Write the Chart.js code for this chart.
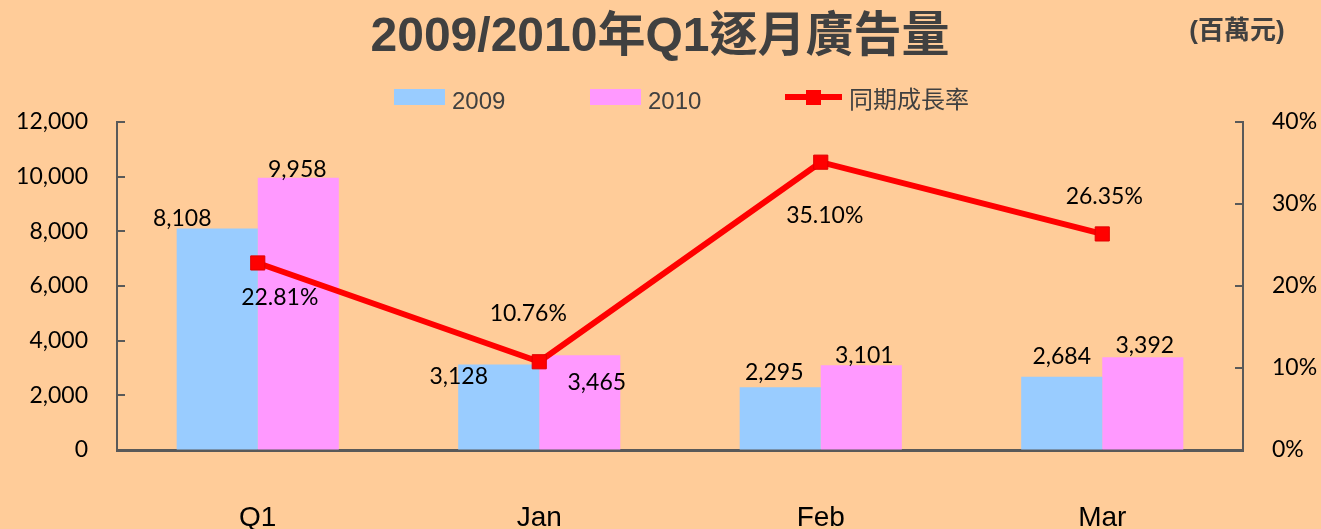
<!DOCTYPE html>
<html>
<head>
<meta charset="utf-8">
<script src="https://cdn.jsdelivr.net/npm/chart.js@4.4.1/dist/chart.umd.min.js"></script>
<style>
  html, body { margin: 0; padding: 0; background: #FFCC99; overflow: hidden; }
  canvas { display: block; }
</style>
</head>
<body>
<canvas id="adChart" width="1321" height="529"></canvas>
<script>
// 廣告量 (百萬元) 與同期成長率
const categories = ["Q1", "Jan", "Feb", "Mar"];
const volume2009 = [8108, 3128, 2295, 2684];
const volume2010 = [9958, 3465, 3101, 3392];
const growthRate = [22.81, 10.76, 35.10, 26.35];
const volumeTicks = [0, 2000, 4000, 6000, 8000, 10000, 12000];
const rateTicks = [0, 10, 20, 30, 40];

// label offsets from each mark (dx, dy), per dataset
const labelShift = [
    [[-35, -10], [-40, 12], [-6, -15], [0, -20]],
    [[-1, -8], [17, 27], [3, -10], [2, -12]],
    [[22, 35], [-11, -48], [4, 53], [2, -37]]
];
const legendX = [394, 590, 785];

const axisGrey = "#595959";
const textGrey = "#404040";

const headerPlugin = {
    id: "header",
    beforeDraw(chart) {
        const ctx = chart.ctx;
        ctx.save();
        ctx.fillStyle = "#FFCC99";
        ctx.fillRect(0, 0, chart.width, chart.height);

        ctx.fillStyle = textGrey;
        ctx.textBaseline = "middle";
        ctx.textAlign = "center";
        ctx.font = "bold 48px 'Liberation Sans', 'Noto Sans CJK TC'";
        ctx.fillText("2009/2010年Q1逐月廣告量", 660, 38);
        ctx.font = "bold 26px 'Liberation Sans', 'Noto Sans CJK TC'";
        ctx.fillText("(百萬元)", 1237, 32);

        // legend
        ctx.textAlign = "left";
        chart.data.datasets.forEach((ds, i) => {
            const x = legendX[i];
            if (ds.type === "line") {
                ctx.strokeStyle = ds.borderColor;
                ctx.lineWidth = 6;
                ctx.beginPath();
                ctx.moveTo(x, 97);
                ctx.lineTo(x + 57, 97);
                ctx.stroke();
                ctx.fillStyle = ds.backgroundColor;
                ctx.fillRect(x + 21, 90, 15, 15);
                ctx.fillStyle = textGrey;
                ctx.font = "24px 'Liberation Sans', 'Noto Sans CJK TC'";
                ctx.fillText(ds.label, x + 64, 101);
            } else {
                ctx.fillStyle = ds.backgroundColor;
                ctx.fillRect(x, 89, 51, 16);
                ctx.fillStyle = textGrey;
                ctx.font = "24px 'Liberation Sans', 'Noto Sans CJK TC'";
                ctx.fillText(ds.label, x + 58, 102);
            }
        });
        ctx.restore();
    },
    afterDraw(chart) {
        // inward tick marks on both value axes
        const ctx = chart.ctx;
        ctx.save();
        ctx.strokeStyle = axisGrey;
        ctx.lineWidth = 2;
        const y = chart.scales.y, y1 = chart.scales.y1;
        y.ticks.forEach(t => {
            const py = Math.round(y.getPixelForValue(t.value));
            ctx.beginPath();
            ctx.moveTo(chart.chartArea.left, py);
            ctx.lineTo(chart.chartArea.left + 8, py);
            ctx.stroke();
        });
        y1.ticks.forEach(t => {
            const py = Math.round(y1.getPixelForValue(t.value));
            ctx.beginPath();
            ctx.moveTo(chart.chartArea.right, py);
            ctx.lineTo(chart.chartArea.right - 8, py);
            ctx.stroke();
        });
        ctx.restore();
    }
};

const valueLabels = {
    id: "valueLabels",
    afterDatasetsDraw(chart) {
        const ctx = chart.ctx;
        ctx.save();
        ctx.font = "23px Lato";
        ctx.fillStyle = "#000";
        ctx.textAlign = "center";
        ctx.textBaseline = "middle";
        chart.data.datasets.forEach((ds, i) => {
            const meta = chart.getDatasetMeta(i);
            meta.data.forEach((el, j) => {
                const [dx, dy] = labelShift[i][j];
                const text = ds.type === "line"
                    ? ds.data[j].toFixed(2) + "%"
                    : ds.data[j].toLocaleString("en-US");
                ctx.fillText(text, el.x + dx, el.y + dy);
            });
        });
        ctx.restore();
    }
};

new Chart(document.getElementById("adChart"), {
    data: {
        labels: categories,
        datasets: [
            {
                type: "bar",
                label: "2009",
                data: volume2009,
                yAxisID: "y",
                backgroundColor: "#99CCFF",
                categoryPercentage: 0.576,
                barPercentage: 1.0,
                order: 2
            },
            {
                type: "bar",
                label: "2010",
                data: volume2010,
                yAxisID: "y",
                backgroundColor: "#FF99FF",
                categoryPercentage: 0.576,
                barPercentage: 1.0,
                order: 2
            },
            {
                type: "line",
                label: "同期成長率",
                data: growthRate,
                yAxisID: "y1",
                borderColor: "#FF0000",
                backgroundColor: "#FF0000",
                borderWidth: 6,
                pointStyle: "rect",
                pointRadius: 10,
                pointBackgroundColor: "#FF0000",
                pointBorderColor: "#E00000",
                pointBorderWidth: 1,
                tension: 0,
                order: 1
            }
        ]
    },
    options: {
        responsive: false,
        animation: false,
        layout: { padding: { top: 122, left: 0, right: 0, bottom: 0 } },
        plugins: {
            legend: { display: false },
            title: { display: false },
            tooltip: { enabled: false }
        },
        scales: {
            x: {
                type: "category",
                offset: true,
                grid: { drawOnChartArea: false, drawTicks: false },
                border: { color: axisGrey, width: 3 },
                ticks: {
                    font: { family: "'Liberation Sans'", size: 28 },
                    color: "#000",
                    padding: 51
                },
                afterFit(scale) { scale.height = 79; }
            },
            y: {
                position: "left",
                min: 0,
                max: 12000,
                grid: { drawOnChartArea: false, drawTicks: false },
                border: { color: axisGrey, width: 2 },
                ticks: {
                    font: { family: "Lato", size: 23 },
                    color: "#000",
                    padding: 29,
                    callback: v => v.toLocaleString("en-US")
                },
                afterBuildTicks(scale) { scale.ticks = volumeTicks.map(v => ({ value: v })); },
                afterFit(scale) { scale.width = 117; }
            },
            y1: {
                position: "right",
                min: 0,
                max: 40,
                grid: { drawOnChartArea: false, drawTicks: false },
                border: { color: axisGrey, width: 2 },
                ticks: {
                    font: { family: "Lato", size: 23 },
                    color: "#000",
                    padding: 29,
                    callback: v => v + "%"
                },
                afterBuildTicks(scale) { scale.ticks = rateTicks.map(v => ({ value: v })); },
                afterFit(scale) { scale.width = 78; }
            }
        }
    },
    plugins: [headerPlugin, valueLabels]
});
</script>
</body>
</html>
